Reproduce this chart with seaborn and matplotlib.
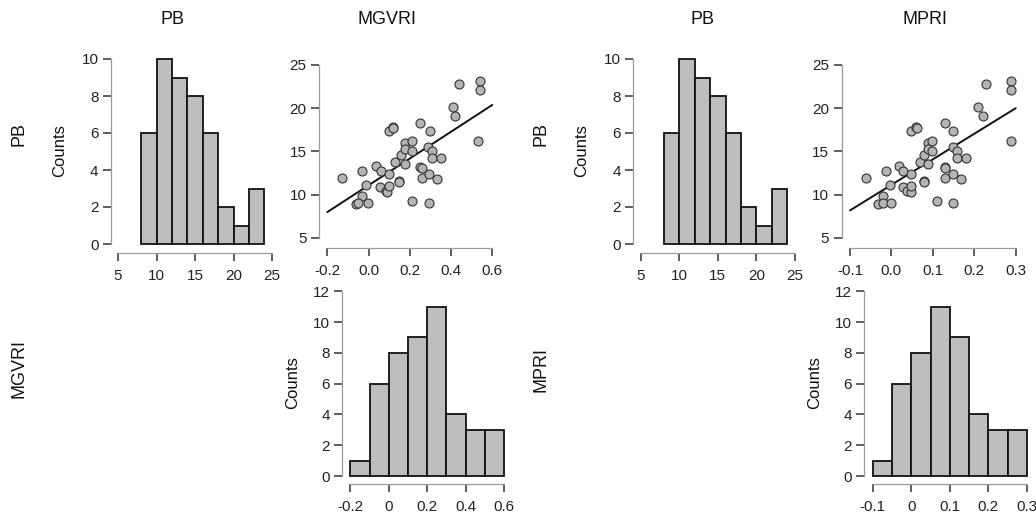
import numpy as np
import pandas as pd
import matplotlib
matplotlib.use("Agg")
import matplotlib.pyplot as plt
import seaborn as sns

# ---------------- data ----------------
PB = [11.87, 12.68, 11.14, 9.86, 8.90, 9.00, 8.98, 13.30, 12.76, 12.37,
      10.90, 10.40, 10.25, 11.00, 17.36, 17.82, 13.76, 11.60, 11.40, 14.58,
      15.93, 15.23, 13.50, 16.16, 15.08, 9.25, 18.24, 13.22, 13.10, 11.95,
      12.34, 8.98, 17.32, 15.46, 15.08, 14.23, 11.80, 14.23, 20.10, 19.10,
      22.84, 23.15, 22.05, 16.20, 17.70]
MGVRI = [-0.128, -0.032, -0.013, -0.032, -0.061, -0.050, -0.003, 0.038, 0.060, 0.097,
         0.057, 0.083, 0.089, 0.099, 0.097, 0.120, 0.128, 0.149, 0.149, 0.159,
         0.178, 0.178, 0.178, 0.210, 0.210, 0.210, 0.249, 0.249, 0.259, 0.259,
         0.291, 0.291, 0.299, 0.288, 0.309, 0.309, 0.330, 0.349, 0.408, 0.420,
         0.438, 0.540, 0.540, 0.529, 0.118]
MPRI = [-0.061, -0.012, -0.003, -0.021, -0.032, -0.021, -0.002, 0.018, 0.029, 0.048,
        0.028, 0.038, 0.048, 0.048, 0.048, 0.059, 0.069, 0.079, 0.079, 0.079,
        0.088, 0.088, 0.088, 0.099, 0.099, 0.109, 0.129, 0.129, 0.129, 0.129,
        0.149, 0.149, 0.149, 0.149, 0.159, 0.159, 0.169, 0.179, 0.209, 0.220,
        0.229, 0.289, 0.289, 0.289, 0.062]

PB_bins = [8, 10, 12, 14, 16, 18, 20, 22, 24]
MGVRI_bins = [-0.2, -0.1, 0.0, 0.1, 0.2, 0.3, 0.4, 0.5, 0.6]
MPRI_bins = [-0.1, -0.05, 0.0, 0.05, 0.1, 0.15, 0.2, 0.25, 0.3]

PB_hist_xticks = [5, 10, 15, 20, 25]
PB_hist_yticks = [0, 2, 4, 6, 8, 10]
PB_scatter_yticks = [5, 10, 15, 20, 25]
MGVRI_ticks = [-0.2, 0.0, 0.2, 0.4, 0.6]
MGVRI_scatter_labels = ["-0.2", "0.0", "0.2", "0.4", "0.6"]
MGVRI_hist_labels = ["-0.2", "0", "0.2", "0.4", "0.6"]
MPRI_ticks = [-0.1, 0.0, 0.1, 0.2, 0.3]
MPRI_scatter_labels = ["-0.1", "0.0", "0.1", "0.2", "0.3"]
MPRI_hist_labels = ["-0.1", "0", "0.1", "0.2", "0.3"]
count_yticks = [0, 2, 4, 6, 8, 10, 12]

df = pd.DataFrame({"PB": PB, "MGVRI": MGVRI, "MPRI": MPRI})

# ---------------- style ----------------
sns.set_style("white")
plt.rcParams["font.family"] = ["Liberation Sans", "DejaVu Sans"]
TXT = "#222222"
SPINE = "#9a9a9a"
BAR = "#bebebe"

W, H = 1036, 515
fig = plt.figure(figsize=(W / 100, H / 100), dpi=100)


def lin(v, a, b):
    (va, pa), (vb, pb) = a, b
    return va + (v - pa) * (vb - va) / (pb - pa)


def make_ax(pl, pr, xa, xb, pt, pbot, ya, yb):
    ax = fig.add_axes([pl / W, 1 - pbot / H, (pr - pl) / W, (pbot - pt) / H])
    ax.set_xlim(lin(pl, xa, xb), lin(pr, xa, xb))
    ax.set_ylim(lin(pbot, ya, yb), lin(pt, ya, yb))
    return ax


def style_ax(ax, xticks, xlabels, yticks):
    ax.set_xticks(xticks)
    ax.set_xticklabels(xlabels)
    ax.set_yticks(yticks)
    ax.set_yticklabels([str(t) for t in yticks])
    for s in ["top", "right"]:
        ax.spines[s].set_visible(False)
    for s in ["left", "bottom"]:
        ax.spines[s].set_color(SPINE)
        ax.spines[s].set_linewidth(0.9)
    ax.spines["bottom"].set_bounds(xticks[0], xticks[-1])
    ax.spines["left"].set_bounds(yticks[0], yticks[-1])
    ax.tick_params(axis="both", which="major", length=6, width=1.1, color="#333333",
                   labelsize=11, labelcolor=TXT, direction="out",
                   bottom=True, left=True)
    ax.tick_params(axis="x", pad=6)
    ax.tick_params(axis="y", pad=3)
    ax.set_xlabel("")
    ax.set_ylabel("")
    ax.grid(False)
    ax.set_facecolor("none")


def hist(ax, col, bins):
    sns.histplot(data=df, x=col, bins=bins, stat="count", color=BAR, alpha=1,
                 edgecolor="#111111", linewidth=1.3, ax=ax)


def scatter(ax, col, line_x):
    sns.scatterplot(data=df, x=col, y="PB", s=42, color="#b4b4b4",
                    edgecolor="#333333", linewidth=0.8, ax=ax, zorder=3)
    k, b = np.polyfit(df[col], df["PB"], 1)
    lx = np.array([line_x[0], line_x[-1]])
    sns.lineplot(x=lx, y=k * lx + b, color="#111111", linewidth=1.4, ax=ax, zorder=2)


panels = [
    ("MGVRI", MGVRI_bins, MGVRI_ticks, MGVRI_scatter_labels, MGVRI_hist_labels,
     dict(a1=(111, 278, (5, 118), (25, 272)),
          a2=(319, 499, (-0.2, 327.3), (0.6, 492.3)),
          a3=(342.3, 510, (-0.2, 350.3), (0.6, 504)))),
    ("MPRI", MPRI_bins, MPRI_ticks, MPRI_scatter_labels, MPRI_hist_labels,
     dict(a1=(633.3, 801, (5, 640.7), (25, 795)),
          a2=(841.7, 1022, (-0.1, 850), (0.3, 1015.7)),
          a3=(864.3, 1034, (-0.1, 872.7), (0.3, 1027)))),
]

for col, bins, ticks, sc_labels, h_labels, pos in panels:
    pl, pr, xa, xb = pos["a1"]
    ax1 = make_ax(pl, pr, xa, xb, 52, 252.5, (0, 244), (10, 59))
    hist(ax1, "PB", PB_bins)
    style_ax(ax1, PB_hist_xticks, [str(t) for t in PB_hist_xticks], PB_hist_yticks)

    pl, pr, xa, xb = pos["a2"]
    ax2 = make_ax(pl, pr, xa, xb, 58, 247.5, (25, 65), (5, 237.7))
    scatter(ax2, col, ticks)
    style_ax(ax2, ticks, sc_labels, PB_scatter_yticks)

    pl, pr, xa, xb = pos["a3"]
    ax3 = make_ax(pl, pr, xa, xb, 284, 483.5, (12, 291.3), (0, 476))
    hist(ax3, col, bins)
    style_ax(ax3, ticks, h_labels, count_yticks)


def ftext(px, py, s, size, rot=0):
    fig.text(px / W, 1 - py / H, s, ha="center", va="center", fontsize=size,
             rotation=rot, color="#111111")


# column titles
ftext(172, 20, "PB", 13)
ftext(387, 20, "MGVRI", 13)
ftext(702, 20, "PB", 13)
ftext(925, 20, "MPRI", 13)
# row labels
ftext(19, 134, "PB", 13, 90)
ftext(19, 368, "MGVRI", 13, 90)
ftext(541, 134, "PB", 13, 90)
ftext(541, 370, "MPRI", 13, 90)
# Counts labels
ftext(60, 151, "Counts", 12, 90)
ftext(293, 383, "Counts", 12, 90)
ftext(582, 151, "Counts", 12, 90)
ftext(815, 383, "Counts", 12, 90)

fig.savefig("out.png", dpi=100, facecolor="white")
